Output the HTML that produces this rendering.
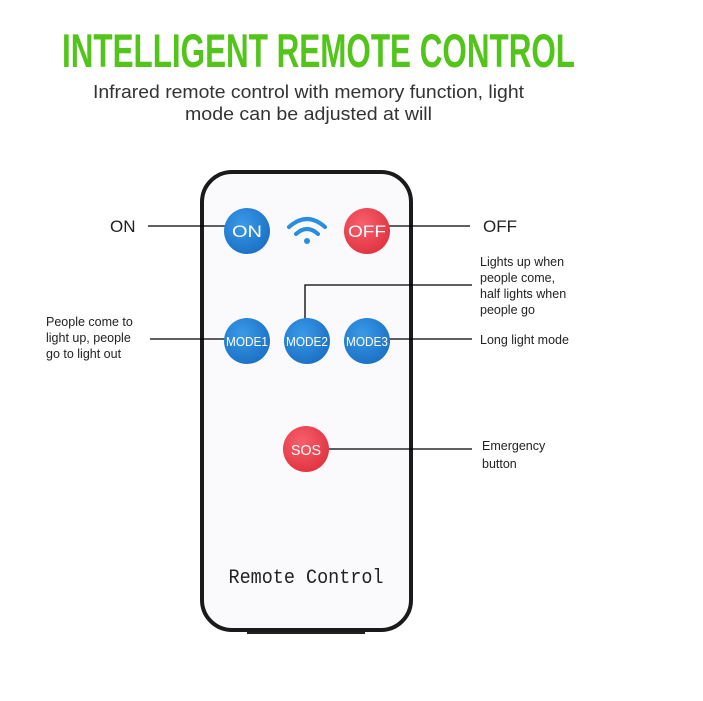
<!DOCTYPE html>
<html><head><meta charset="utf-8"><style>
html,body{margin:0;padding:0;background:#fff;}
svg{display:block}
</style></head><body>
<svg width="703" height="701" viewBox="0 0 703 701" xmlns="http://www.w3.org/2000/svg" font-family="Liberation Sans, Arial, sans-serif">
<defs>
<radialGradient id="bl" cx="40%" cy="35%" r="70%"><stop offset="0" stop-color="#3a9ae8"/><stop offset="1" stop-color="#1a6fc4"/></radialGradient>
<radialGradient id="rd" cx="40%" cy="35%" r="70%"><stop offset="0" stop-color="#f7606c"/><stop offset="1" stop-color="#e0323f"/></radialGradient>
</defs>
<text x="62" y="67" font-size="47" font-weight="bold" fill="#52c41a" textLength="513" lengthAdjust="spacingAndGlyphs">INTELLIGENT REMOTE CONTROL</text>
<text x="93" y="98" font-size="18" fill="#333" textLength="431" lengthAdjust="spacingAndGlyphs">Infrared remote control with memory function, light</text>
<text x="185" y="120" font-size="18" fill="#333" textLength="247" lengthAdjust="spacingAndGlyphs">mode can be adjusted at will</text>

<rect x="247" y="624" width="118" height="10" fill="#222"/>
<rect x="202" y="172" width="209" height="458" rx="30" fill="#fafafc" stroke="#1a1a1a" stroke-width="4"/>

<g stroke="#000" stroke-width="1.3" fill="none">
<line x1="148" y1="226" x2="226" y2="226"/>
<line x1="388" y1="226" x2="470" y2="226"/>
<line x1="150" y1="339" x2="226" y2="339"/>
<polyline points="305,320 305,285 472,285"/>
<line x1="388" y1="339" x2="472" y2="339"/>
<line x1="328" y1="449" x2="472" y2="449"/>
</g>

<g font-size="14" fill="#fff" text-anchor="middle">
<circle cx="247" cy="231" r="23" fill="url(#bl)"/>
<text x="247" y="237" font-size="17" textLength="30" lengthAdjust="spacingAndGlyphs">ON</text>
<circle cx="367" cy="231" r="23" fill="url(#rd)"/>
<text x="367" y="237" font-size="17" textLength="38" lengthAdjust="spacingAndGlyphs">OFF</text>
<circle cx="247" cy="341" r="23" fill="url(#bl)"/>
<text x="247" y="346" font-size="13" textLength="42" lengthAdjust="spacingAndGlyphs">MODE1</text>
<circle cx="307" cy="341" r="23" fill="url(#bl)"/>
<text x="307" y="346" font-size="13" textLength="42" lengthAdjust="spacingAndGlyphs">MODE2</text>
<circle cx="367" cy="341" r="23" fill="url(#bl)"/>
<text x="367" y="346" font-size="13" textLength="42" lengthAdjust="spacingAndGlyphs">MODE3</text>
<circle cx="306" cy="449" r="23" fill="url(#rd)"/>
<text x="306" y="455" font-size="15" textLength="30" lengthAdjust="spacingAndGlyphs">SOS</text>
</g>

<g fill="none" stroke="#2a8ee0" stroke-width="4" stroke-linecap="round">
<path d="M289 227 Q307 211 325 227"/>
<path d="M296 234 Q307 224 318 234"/>
</g>
<circle cx="307" cy="241" r="3" fill="#2a8ee0"/>

<text x="306" y="583" font-size="20" font-family="Liberation Mono, monospace" fill="#222" text-anchor="middle" textLength="155" lengthAdjust="spacingAndGlyphs">Remote Control</text>

<g fill="#222">
<text x="110" y="232" font-size="17">ON</text>
<text x="483" y="232" font-size="17">OFF</text>
<text x="480" y="266" font-size="12.5">Lights up when</text>
<text x="480" y="282" font-size="12.5">people come,</text>
<text x="480" y="298" font-size="12.5">half lights when</text>
<text x="480" y="314" font-size="12.5">people go</text>
<text x="46" y="326" font-size="12.5">People come to</text>
<text x="46" y="342" font-size="12.5">light up, people</text>
<text x="46" y="358" font-size="12.5">go to light out</text>
<text x="480" y="344" font-size="12.5">Long light mode</text>
<text x="482" y="450" font-size="12.5">Emergency</text>
<text x="482" y="468" font-size="12.5">button</text>
</g>
</svg>
</body></html>
